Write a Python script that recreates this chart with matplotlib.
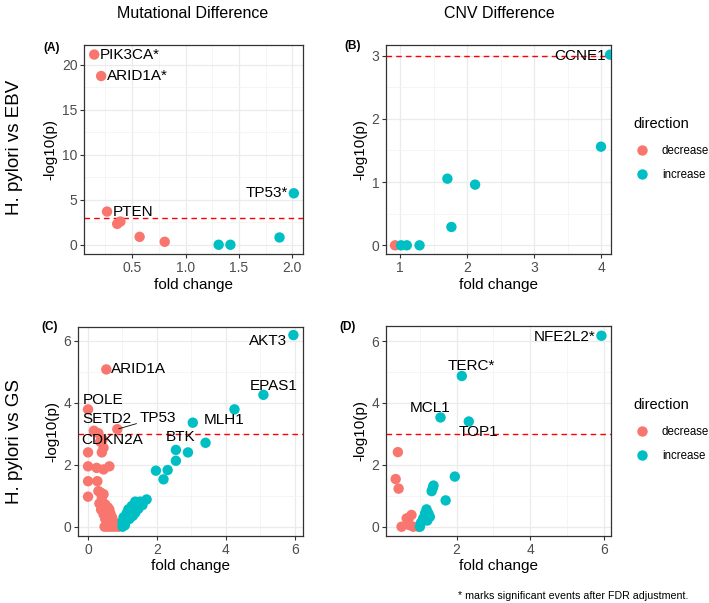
import matplotlib
matplotlib.use("Agg")
import matplotlib.pyplot as plt
from matplotlib.lines import Line2D
from matplotlib.ticker import MultipleLocator

plt.rcParams['font.family'] = ['Liberation Sans', 'DejaVu Sans']

# ---------------- data ----------------
# Panel A: Mutational difference, H. pylori vs EBV
A_fold = [0.145, 0.21, 0.265, 0.36, 0.39, 0.57, 0.805, 1.31, 1.42, 1.88, 2.014]
A_logp = [21.14, 18.75, 3.69, 2.32, 2.58, 0.88, 0.33, 0.0, 0.0, 0.81, 5.72]
A_label = ["PIK3CA*", "ARID1A*", "PTEN", "", "", "", "", "", "", "", "TP53*"]

# Panel B: CNV difference, H. pylori vs EBV
B_fold = [0.925, 1.015, 1.10, 1.29, 1.705, 1.765, 2.118, 3.995, 4.13]
B_logp = [0.0, 0.0, 0.0, 0.0, 1.054, 0.29, 0.96, 1.56, 3.015]
B_label = ["", "", "", "", "", "", "", "", "CCNE1"]

# Panel C: Mutational difference, H. pylori vs GS
C_fold = [0.53, 0.0, 0.85, 0.17, 0.30, 0.42, 0.35, 0.45, 0.0, 0.40,
          0.0, 0.25, 0.45, 0.62, 0.0, 0.27, 0.30, 0.37, 0.0, 0.40, 0.45,
          0.33, 0.42, 0.50, 0.38, 0.48, 0.58, 0.62, 0.45, 0.55, 0.65,
          0.50, 0.60, 0.70, 0.55, 0.65, 0.75, 0.48, 0.58, 0.68, 0.78,
          0.88, 0.82, 0.72,
          5.96, 5.09, 4.25, 3.04, 3.41, 2.55, 2.90, 2.55, 1.97, 2.31, 2.19,
          1.70, 1.51, 1.37, 1.44, 1.27, 1.33, 1.17, 1.25, 1.12, 1.37,
          1.03, 1.15, 1.30, 1.00, 1.08, 1.00, 1.07, 1.58, 1.46, 1.20]
C_logp = [5.08, 3.79, 3.15, 3.10, 3.02, 2.82, 2.75, 2.55, 2.40, 2.40,
          1.95, 1.90, 1.85, 1.95, 1.47, 1.47, 1.15, 1.10, 0.97, 0.95, 1.05,
          0.75, 0.78, 0.72, 0.55, 0.58, 0.62, 0.55, 0.40, 0.45, 0.42,
          0.25, 0.28, 0.30, 0.10, 0.12, 0.15, 0.0, 0.0, 0.0, 0.0,
          0.0, 0.10, 0.05,
          6.19, 4.26, 3.79, 3.36, 2.71, 2.48, 2.40, 2.13, 1.81, 1.83, 1.53,
          0.88, 0.81, 0.81, 0.72, 0.67, 0.60, 0.56, 0.48, 0.43, 0.45,
          0.30, 0.32, 0.35, 0.16, 0.20, 0.0, 0.05, 0.70, 0.58, 0.25]
C_label = ["ARID1A", "POLE", "TP53", "SETD2", "", "", "CDKN2A"] + [""] * 37 + \
          ["AKT3", "EPAS1", "", "MLH1", "", "BTK"] + [""] * 25

# Panel D: CNV difference, H. pylori vs GS
D_fold = [0.40, 0.34, 0.42, 0.50, 0.68, 0.77, 0.64, 0.82, 0.96, 0.72,
          5.94, 2.14, 1.56, 2.33, 1.95, 1.70, 1.37, 1.32, 1.35, 1.18,
          1.14, 1.27, 1.09, 1.03, 1.00, 1.23, 1.20]
D_logp = [2.41, 1.54, 1.23, 0.0, 0.22, 0.38, 0.27, 0.0, 0.0, 0.05,
          6.17, 4.87, 3.53, 3.40, 1.62, 0.85, 1.33, 1.15, 1.25, 0.56,
          0.43, 0.32, 0.27, 0.13, 0.0, 0.43, 0.20]
D_label = [""] * 10 + ["NFE2L2*", "TERC*", "MCL1", "TOP1"] + [""] * 13

col_titles = ["Mutational Difference", "CNV Difference"]
row_titles = ["H. pylori vs EBV", "H. pylori vs GS"]
panel_tags = ["(A)", "(B)", "(C)", "(D)"]
legend_levels = ["decrease", "increase"]
footnote = "* marks significant events after FDR adjustment."
threshold = 3

# ---------------- styling ----------------
COL = {"decrease": "#F8766D", "increase": "#00BFC4"}
LABEL_FS = 11

# label placement: (dx, dy in points, ha)
OFFS = {
    "PIK3CA*": (4, 0, "left"), "ARID1A*": (4, 0, "left"), "PTEN": (4, 0, "left"),
    "TP53*": (-4, 0, "right"), "CCNE1": (-3, -1, "right"),
    "ARID1A": (3.5, 0, "left"), "POLE": (-4, 6.7, "left"), "SETD2": (-8.2, 8.2, "left"),
    "TP53": (15.8, 8.4, "left"), "CDKN2A": (-13.5, 1.0, "left"),
    "AKT3": (-4.3, -4.1, "right"), "EPAS1": (7.7, 6.5, "center"),
    "MLH1": (8, 2, "left"), "BTK": (3.5, 9.5, "center"),
    "NFE2L2*": (-4.5, -0.7, "right"), "TERC*": (7.2, 7.4, "center"),
    "MCL1": (-7.7, 6.5, "center"), "TOP1": (6.9, -7.9, "center"),
}

W, H = 709, 603
fig = plt.figure(figsize=(W / 100, H / 100), dpi=100)

def rect(l, r, t, b):
    return [l / W, 1 - b / H, (r - l) / W, (b - t) / H]

panels = [
    (rect(84.3, 302.7, 45, 254.3), A_fold, A_logp, A_label, (0.052, 2.097), (-1.06, 22.2), 0.5, 0.25, 5, 2.5),
    (rect(386, 611, 45, 254.3), B_fold, B_logp, B_label, (0.79, 4.144), (-0.142, 3.168), 1, 0.5, 1, 0.5),
    (rect(77.7, 302.7, 326.7, 536), C_fold, C_logp, C_label, (-0.30, 6.23), (-0.30, 6.46), 2, 1, 2, 1),
    (rect(386, 611, 326, 536), D_fold, D_logp, D_label, (0.077, 6.20), (-0.30, 6.485), 2, 1, 2, 1),
]

axes = []
for i, (pos, fx, ly, lab, xl, yl, xmaj, xmin, ymaj, ymin) in enumerate(panels):
    ax = fig.add_axes(pos)
    axes.append(ax)
    ax.set_xlim(*xl)
    ax.set_ylim(*yl)
    ax.xaxis.set_major_locator(MultipleLocator(xmaj))
    ax.xaxis.set_minor_locator(MultipleLocator(xmin))
    ax.yaxis.set_major_locator(MultipleLocator(ymaj))
    ax.yaxis.set_minor_locator(MultipleLocator(ymin))
    ax.grid(which="major", color="#EBEBEB", lw=0.9, zorder=0)
    ax.grid(which="minor", color="#F2F2F2", lw=0.5, zorder=0)
    ax.set_axisbelow(True)
    for s in ax.spines.values():
        s.set_color("#333333")
        s.set_linewidth(0.9)
    ax.tick_params(which="major", length=2.8, width=0.8, color="#333333",
                   labelcolor="#4D4D4D", labelsize=10, pad=2)
    ax.tick_params(which="minor", length=0)
    if i == 0:
        ax.set_xticks([0.5, 1.0, 1.5, 2.0])
        ax.set_xticklabels(["0.5", "1.0", "1.5", "2.0"])

    ax.axhline(threshold, color="#FF0000", lw=1.0, ls=(0, (4, 3)), zorder=2)
    cols = [COL["increase"] if f >= 1 else COL["decrease"] for f in fx]
    ax.scatter(fx, ly, s=56, c=cols, edgecolors="none", zorder=3, clip_on=True)

    for f, y, t in zip(fx, ly, lab):
        if not t:
            continue
        dx, dy, ha = OFFS[t]
        if t == "TP53":
            ax.annotate(t, xy=(f, y), xytext=(dx, dy), textcoords="offset points",
                        ha=ha, va="center", fontsize=LABEL_FS, zorder=5,
                        arrowprops=dict(arrowstyle="-", color="black", lw=0.6,
                                        shrinkA=0, shrinkB=1))
        else:
            ax.annotate(t, xy=(f, y), xytext=(dx, dy), textcoords="offset points",
                        ha=ha, va="center", fontsize=LABEL_FS, zorder=5)

    ax.set_xlabel("fold change", fontsize=11, labelpad=2)
    ax.set_ylabel("-log10(p)", fontsize=11, labelpad=3)

# column titles
fig.text(193 / W, 1 - 14 / H, col_titles[0], ha="center", va="center", fontsize=11.5)
fig.text(499 / W, 1 - 14 / H, col_titles[1], ha="center", va="center", fontsize=11.5)
# row titles
fig.text(15 / W, 1 - 147 / H, row_titles[0], ha="center", va="center", rotation=90, fontsize=13.5)
fig.text(15 / W, 1 - 441 / H, row_titles[1], ha="center", va="center", rotation=90, fontsize=13.5)
# panel tags
for tag, (x, y) in zip(panel_tags, [(51.5, 48), (352.7, 46), (50, 327), (348, 327)]):
    fig.text(x / W, 1 - y / H, tag, ha="center", va="center", fontsize=8.5, fontweight="bold")

# legends
for ax, ytop in [(axes[1], 117), (axes[3], 398)]:
    handles = [Line2D([], [], marker="o", ls="none", markersize=7.5,
                      markerfacecolor=COL[l], markeredgecolor="none") for l in legend_levels]
    leg = ax.legend(handles, legend_levels, title="direction", loc="upper left",
                    bbox_to_anchor=(633 / W, 1 - ytop / H), bbox_transform=fig.transFigure,
                    frameon=False, fontsize=8.3, title_fontsize=10.5,
                    handletextpad=0.9, labelspacing=1.05, borderaxespad=0,
                    borderpad=0, handlelength=1.6)
    leg._legend_box.align = "left"
    leg._legend_box.sep = 10

fig.text(689 / W, 1 - 596 / H, footnote, ha="right", va="center", fontsize=7.7)

fig.savefig("out.png", dpi=100)
